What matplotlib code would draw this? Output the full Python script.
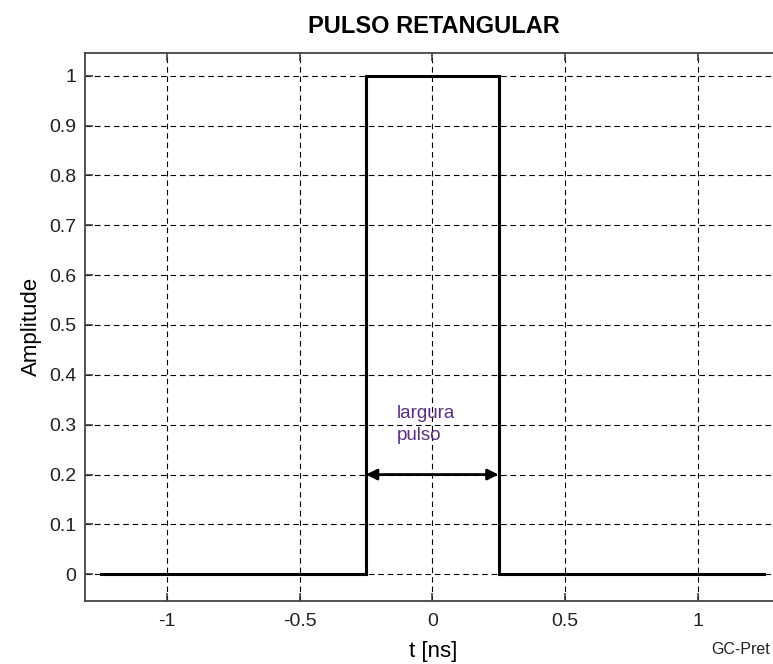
import numpy as np
import matplotlib.pyplot as plt

plt.rcParams['font.family'] = ['Liberation Sans', 'DejaVu Sans']

# pulse samples (t in ns, amplitude)
t = [-1.25, -0.25, -0.25, 0.25, 0.25, 1.25]
amp = [0, 0, 1, 1, 0, 0]

x_ticks = [-1, -0.5, 0, 0.5, 1]
x_labels = ['-1', '-0.5', '0', '0.5', '1']
y_ticks = [0, 0.1, 0.2, 0.3, 0.4, 0.5, 0.6, 0.7, 0.8, 0.9, 1]
y_labels = ['0', '0.1', '0.2', '0.3', '0.4', '0.5', '0.6', '0.7', '0.8', '0.9', '1']

width_start, width_end, width_level = -0.25, 0.25, 0.2

fig = plt.figure(figsize=(7.73, 6.64), dpi=100)
# right edge of the axes sits just past the figure border
ax = fig.add_axes([0.1096, 0.0953, 0.9026, 0.8253])

ax.plot(t, amp, color='black', linewidth=2.2, solid_joinstyle='miter')

ax.set_xlim(-1.31, 1.32)
ax.set_ylim(-0.053, 1.046)
ax.set_xticks(x_ticks)
ax.set_xticklabels(x_labels)
ax.set_yticks(y_ticks)
ax.set_yticklabels(y_labels)

ax.grid(True, color='black', linestyle=(0, (5, 3.5)), linewidth=0.8)
ax.tick_params(direction='in', length=6, width=1.1, color='#333333',
               labelsize=14, labelcolor='#222222', top=True, right=True, pad=6)
ax.tick_params(axis='x', pad=9)
for s in ax.spines.values():
    s.set_color('#444444')
    s.set_linewidth(1.3)

# double arrow marking the pulse width
ax.annotate('', xy=(width_end, width_level), xytext=(width_start, width_level),
            arrowprops=dict(arrowstyle='<|-|>', color='black', lw=2,
                            mutation_scale=16, shrinkA=0, shrinkB=0))
ax.text(-0.132, 0.30, 'largura\npulso', color='#5a2d82', fontsize=13.5,
        ha='left', va='center', linespacing=1.4)

ax.set_title('PULSO RETANGULAR', fontsize=17, fontweight='bold', pad=14)
ax.set_xlabel('t [ns]', fontsize=16, labelpad=8)
ax.set_ylabel('Amplitude', fontsize=16, labelpad=5)

fig.text(0.996, 0.022, 'GC-Pret', fontsize=11.5, ha='right', va='center', color='#222222')

fig.savefig('out.png', dpi=100)
